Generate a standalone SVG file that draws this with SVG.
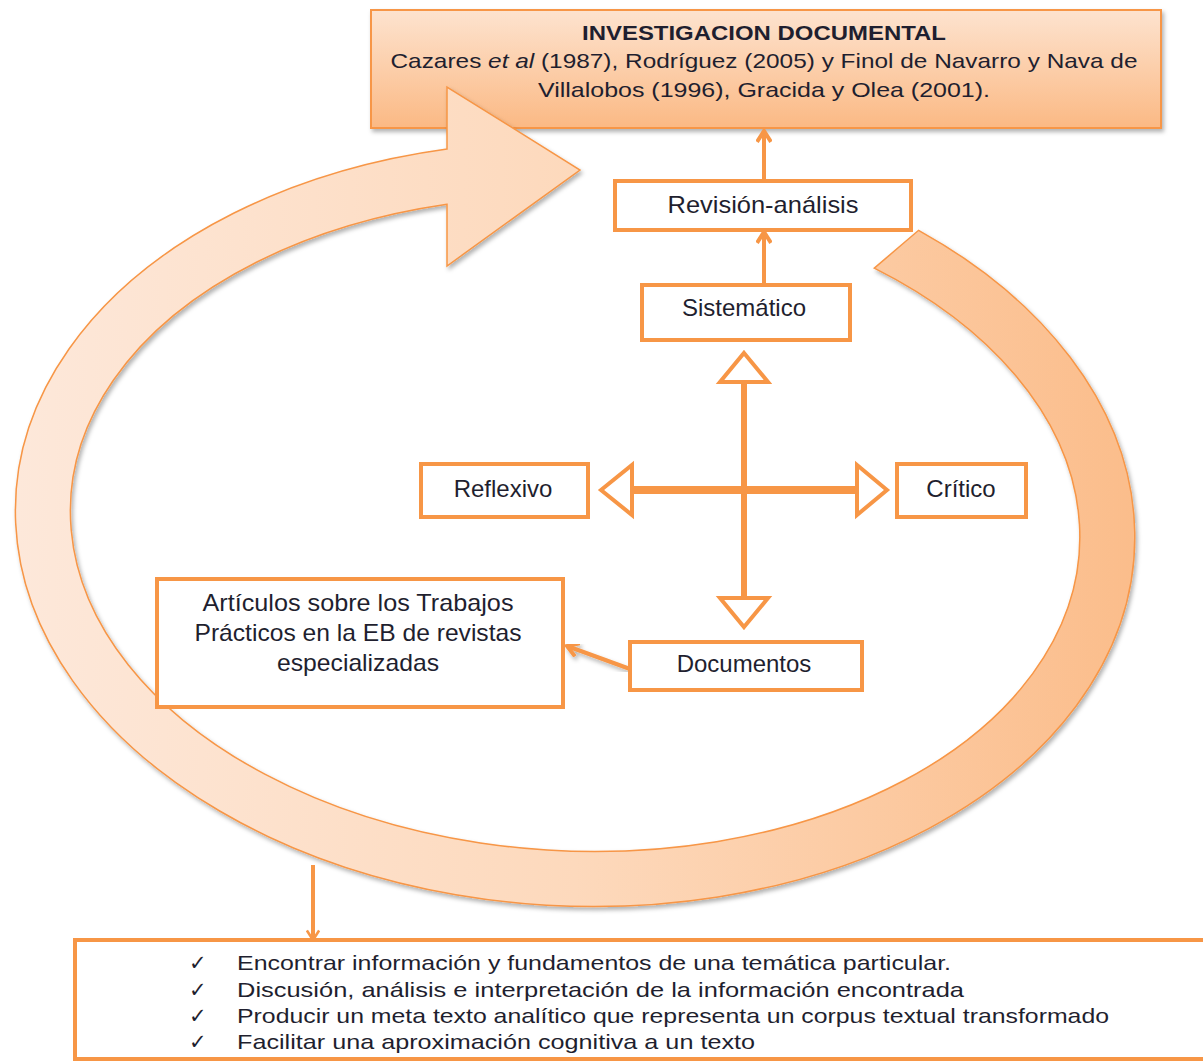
<svg xmlns="http://www.w3.org/2000/svg" width="1203" height="1062" viewBox="0 0 1203 1062">
  <defs>
    <linearGradient id="ringFill" gradientUnits="userSpaceOnUse" x1="15" y1="0" x2="1135" y2="0">
      <stop offset="0" stop-color="#fde8da"/>
      <stop offset="0.5" stop-color="#fdd9bc"/>
      <stop offset="1" stop-color="#fbbd8b"/>
    </linearGradient>
    <linearGradient id="headerFill" x1="0" y1="0" x2="0" y2="1">
      <stop offset="0" stop-color="#fde3cf"/>
      <stop offset="1" stop-color="#fbb984"/>
    </linearGradient>
    <filter id="shadow" x="-5%" y="-5%" width="110%" height="115%">
      <feDropShadow dx="2" dy="3" stdDeviation="2" flood-color="#000" flood-opacity="0.3"/>
    </filter>
    <marker id="chevron" viewBox="0 0 16 16" markerWidth="16" markerHeight="16" refX="14" refY="8" orient="auto" markerUnits="userSpaceOnUse">
      <path d="M3,1 L14,8 L3,15" fill="none" stroke="#f79646" stroke-width="4"/>
    </marker>
    <marker id="chevronSmall" viewBox="0 0 16 16" markerWidth="14" markerHeight="14" refX="14" refY="8" orient="auto" markerUnits="userSpaceOnUse">
      <path d="M3,1 L14,8 L3,15" fill="none" stroke="#f79646" stroke-width="3"/>
    </marker>
    <style>
      .box { fill: #ffffff; stroke: #f79646; stroke-width: 4; }
      .label { font-family: "Liberation Sans", Arial, sans-serif; font-size: 24px; fill: #1f1f2f; text-anchor: middle; }
      .head { font-family: "Liberation Sans", Arial, sans-serif; font-size: 21px; fill: #1f1f2f; text-anchor: middle; }
      .item { font-family: "Liberation Sans", Arial, sans-serif; font-size: 21px; fill: #1f1f2f; }
      .tick { font-family: "DejaVu Sans", sans-serif; font-size: 21px; fill: #1f1f2f; }
      .link { fill: none; stroke: #f79646; stroke-width: 4; }
      .hollow { fill: #ffffff; stroke: #f79646; stroke-width: 4; stroke-linejoin: miter; }
    </style>
  </defs>

  <rect width="1203" height="1062" fill="#ffffff"/>

  <!-- header box -->
  <g id="node-investigacion">
    <rect x="371" y="10" width="790" height="118" fill="url(#headerFill)" stroke="#f79646" stroke-width="2" filter="url(#shadow)"/>
    <text class="head" x="764" y="40" font-weight="bold" textLength="364" lengthAdjust="spacingAndGlyphs">INVESTIGACION DOCUMENTAL</text>
    <text class="head" x="764" y="68" textLength="747" lengthAdjust="spacingAndGlyphs">Cazares <tspan font-style="italic">et al</tspan> (1987), Rodríguez (2005) y Finol de Navarro y Nava de</text>
    <text class="head" x="764" y="97" textLength="452" lengthAdjust="spacingAndGlyphs">Villalobos (1996), Gracida y Olea  (2001).</text>
  </g>

  <!-- circular cycle arrow: slightly tilted elliptical band ending in a right-pointing head -->
  <g id="cycle-arrow">
    <path d="M 918.6 230.3 A 560 382 2.5 1 1 447 149 L 447 87 L 580 170 L 447 266 L 447 204.3 A 505 327 2.5 1 0 874.3 268.1 Z"
          fill="url(#ringFill)" stroke="#f79646" stroke-width="1.5" stroke-linejoin="miter" filter="url(#shadow)"/>
  </g>

  <!-- connectors -->
  <g id="connectors">
    <line class="link" x1="764" y1="181" x2="764" y2="131" marker-end="url(#chevron)"/>
    <line class="link" x1="764" y1="284" x2="764" y2="232" marker-end="url(#chevron)"/>
    <g filter="url(#shadow)">
      <line class="link" x1="630" y1="669" x2="567" y2="646" marker-end="url(#chevron)"/>
    </g>
    <line class="link" x1="313" y1="865" x2="313" y2="940" stroke-width="3" marker-end="url(#chevronSmall)"/>
    <!-- cross of double-headed hollow arrows -->
    <line x1="744" y1="382" x2="744" y2="598" stroke="#f79646" stroke-width="6"/>
    <line x1="632" y1="490" x2="857" y2="490" stroke="#f79646" stroke-width="8"/>
    <polygon class="hollow" points="744,353 768,382 720,382"/>
    <polygon class="hollow" points="744,627 768,598 720,598"/>
    <polygon class="hollow" points="601,490 632,465 632,515"/>
    <polygon class="hollow" points="887,490 857,465 857,515"/>
  </g>

  <g id="node-revision">
    <rect class="box" x="615" y="181" width="296" height="49"/>
    <text class="label" x="763" y="213" textLength="191" lengthAdjust="spacingAndGlyphs">Revisión-análisis</text>
  </g>

  <g id="node-sistematico">
    <rect class="box" x="642" y="285" width="208" height="55"/>
    <text class="label" x="744" y="316">Sistemático</text>
  </g>

  <g id="node-reflexivo">
    <rect class="box" x="421" y="464" width="167" height="53"/>
    <text class="label" x="503" y="497">Reflexivo</text>
  </g>

  <g id="node-critico">
    <rect class="box" x="897" y="464" width="129" height="53"/>
    <text class="label" x="961" y="497">Crítico</text>
  </g>

  <g id="node-articulos">
    <rect class="box" x="157" y="579" width="406" height="128"/>
    <text class="label" x="358" y="611" textLength="311" lengthAdjust="spacingAndGlyphs">Artículos sobre los Trabajos</text>
    <text class="label" x="358" y="641" textLength="327" lengthAdjust="spacingAndGlyphs">Prácticos en la EB de revistas</text>
    <text class="label" x="358" y="671" textLength="162" lengthAdjust="spacingAndGlyphs">especializadas</text>
  </g>

  <g id="node-documentos">
    <rect class="box" x="630" y="642" width="232" height="48"/>
    <text class="label" x="744" y="672">Documentos</text>
  </g>

  <g id="node-objetivos">
    <rect class="box" x="75" y="940" width="1140" height="119"/>
    <text class="tick" x="189" y="970">✓</text>
    <text class="tick" x="189" y="997">✓</text>
    <text class="tick" x="189" y="1023">✓</text>
    <text class="tick" x="189" y="1049">✓</text>
    <text class="item" x="237" y="970" textLength="714" lengthAdjust="spacingAndGlyphs">Encontrar información y fundamentos de una temática particular.</text>
    <text class="item" x="237" y="997" textLength="727" lengthAdjust="spacingAndGlyphs">Discusión, análisis e interpretación de la información encontrada</text>
    <text class="item" x="237" y="1023" textLength="872" lengthAdjust="spacingAndGlyphs">Producir un meta texto analítico que representa un corpus textual transformado</text>
    <text class="item" x="237" y="1049" textLength="518" lengthAdjust="spacingAndGlyphs">Facilitar una aproximación cognitiva a un texto</text>
  </g>
</svg>
